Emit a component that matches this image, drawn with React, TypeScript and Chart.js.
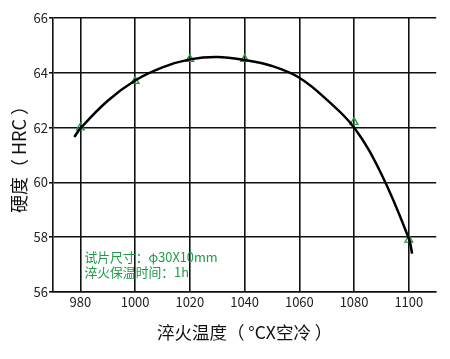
import React, { useEffect, useRef } from "react";
import { Chart, registerables } from "chart.js";

Chart.register(...registerables);

const curveTemps = [977.8, 980, 990, 1000, 1010, 1020, 1030, 1040, 1050, 1060, 1070, 1080, 1090, 1100, 1101.2];
const curveHRC = [61.66, 61.97, 62.98, 63.72, 64.2, 64.49, 64.58, 64.47, 64.25, 63.82, 63.02, 62.0, 60.3, 57.95, 57.4];

const pointTemps = [980, 1000, 1020, 1040, 1080, 1100];
const pointHRC = [62.0, 63.7, 64.5, 64.5, 62.2, 57.9];

const xTicks = [980, 1000, 1020, 1040, 1060, 1080, 1100];
const yTicks = [56, 58, 60, 62, 64, 66];

const noteLines = ["试片尺寸：φ30X10mm", "淬火保温时间：1h"];
const xTitle = "淬火温度（ °CX空冷 ）";
const yTitle = "硬度（ HRC ）";

const GREEN = "#1f9a45";
const FONT = "'Noto Sans CJK SC', 'Noto Sans', sans-serif";

const notePlugin = {
  id: "notes",
  afterDatasetsDraw(chart: any) {
    const ctx = chart.ctx;
    const xs = chart.scales.x;
    const ys = chart.scales.y;
    ctx.save();
    ctx.fillStyle = GREEN;
    ctx.font = `12.8px ${FONT}`;
    ctx.textAlign = "left";
    ctx.textBaseline = "middle";
    const x0 = xs.getPixelForValue(981.5);
    const y0 = ys.getPixelForValue(57.28);
    noteLines.forEach((t, i) => ctx.fillText(t, x0, y0 + i * 15.5));
    ctx.restore();
  },
};

export default function App() {
  const ref = useRef<HTMLCanvasElement | null>(null);
  useEffect(() => {
    if (!ref.current) return;
    const chart = new Chart(ref.current, {
      type: "line",
      data: {
        datasets: [
          {
            label: "curve",
            data: curveTemps.map((t, i) => ({ x: t, y: curveHRC[i] })),
            borderColor: "#000",
            borderWidth: 2.5,
            pointRadius: 0,
            tension: 0.4,
            fill: false,
            order: 0,
          },
          {
            label: "points",
            data: pointTemps.map((t, i) => ({ x: t, y: pointHRC[i] })),
            showLine: false,
            pointStyle: "triangle",
            pointRadius: 4.5,
            pointBorderColor: GREEN,
            pointBackgroundColor: "rgba(0,0,0,0)",
            pointBorderWidth: 1.3,
            order: 1,
          },
        ],
      },
      options: {
        animation: false,
        responsive: true,
        maintainAspectRatio: false,
        layout: { padding: { left: 0, right: 2, top: 10, bottom: 0 } },
        plugins: { legend: { display: false }, tooltip: { enabled: false } },
        scales: {
          x: {
            type: "linear",
            min: 970,
            max: 1110,
            afterBuildTicks: (s: any) => {
              s.ticks = xTicks.map((v) => ({ value: v }));
            },
            afterFit: (s: any) => {
              s.height = 59;
            },
            grid: { color: "#111", lineWidth: 1.6, tickLength: 0, drawTicks: false },
            border: { color: "#111", width: 1.6 },
            ticks: {
              color: "#222",
              font: { family: FONT, size: 13 },
              padding: 2,
              maxRotation: 0,
              callback: (v: any) => String(v),
            },
            title: {
              display: true,
              text: xTitle,
              color: "#111",
              font: { family: FONT, size: 17.5 },
              padding: { top: 0, bottom: 8 },
            },
          },
          y: {
            min: 56,
            max: 66,
            afterBuildTicks: (s: any) => {
              s.ticks = yTicks.map((v) => ({ value: v }));
            },
            afterFit: (s: any) => {
              s.width = 45;
            },
            grid: { color: "#111", lineWidth: 1.6, tickLength: 4 },
            border: { color: "#111", width: 1.6 },
            ticks: {
              color: "#222",
              font: { family: FONT, size: 13 },
              padding: 1,
              callback: (v: any) => String(v),
            },
            title: {
              display: true,
              text: yTitle,
              color: "#111",
              font: { family: FONT, size: 18 },
              padding: 0,
            },
          },
        },
      } as any,
      plugins: [notePlugin],
    });
    return () => chart.destroy();
  }, []);
  return (
    <div style={{ width: 434, height: 343, position: "relative" }}>
      <canvas ref={ref} />
    </div>
  );
}
